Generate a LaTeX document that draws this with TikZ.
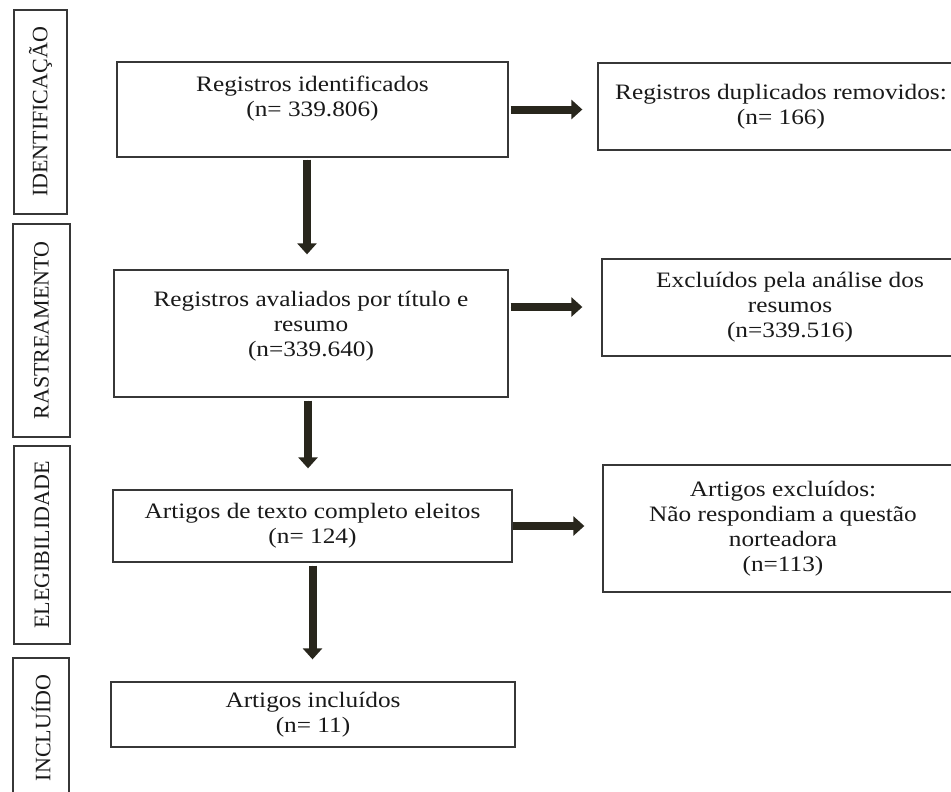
\documentclass[tikz,border=0pt]{standalone}
\usepackage{fontspec}
\setmainfont{Liberation Serif}
\newfontfamily\widefont{Liberation Serif}[FakeStretch=1.15]
\usetikzlibrary{arrows.meta}
\definecolor{boxline}{RGB}{55,55,55}
\definecolor{arrowcol}{RGB}{40,38,28}
\definecolor{txt}{RGB}{25,25,25}
\begin{document}
\begin{tikzpicture}[x=1pt,y=-1pt,
  box/.style={draw=boxline, line width=1.3pt, rectangle, inner sep=0pt, align=center, text=txt,
    font=\widefont\fontsize{22}{25}\selectfont},
  sidebox/.style={box, rotate=90, font=\fontsize{22}{25}\selectfont},
  bigarrow/.style={draw=arrowcol, line width=8pt, -{Triangle[width=19pt,length=11pt]}, fill=arrowcol}
]
\useasboundingbox (0,0) rectangle (951,792);
\clip (0,0) rectangle (951,792);
\fill[white] (0,0) rectangle (951,792);

% phase labels
\node[sidebox, minimum width=204, minimum height=53] (l1) at (40.5,112) {IDENTIFICAÇÃO};
\node[sidebox, minimum width=213, minimum height=57] (l2) at (41.5,330.5) {RASTREAMENTO};
\node[sidebox, minimum width=198, minimum height=56] (l3) at (42,545) {ELEGIBILIDADE};
\node[sidebox, minimum width=140, minimum height=56] (l4) at (41,728) {INCLUÍDO};

% main column
\node[box, minimum width=391, minimum height=95] (b1) at (312.5,109.5) {Registros identificados\\(n= 339.806)\\[1pt]\mbox{}};
\node[box, minimum width=394, minimum height=127] (b2) at (311,333.5) {Registros avaliados por título e\\resumo\\(n=339.640)\\[-5pt]\mbox{}};
\node[box, minimum width=399, minimum height=72] (b3) at (312.5,526) {Artigos de texto completo eleitos\\(n= 124)};
\node[box, minimum width=404, minimum height=65] (b4) at (313,714.5) {Artigos incluídos\\(n= 11)};

% right column
\node[box, minimum width=366, minimum height=87] (r1) at (781,106.5) {Registros duplicados removidos:\\(n= 166)};
\node[box, minimum width=376, minimum height=97] (r2) at (790,307.5) {Excluídos pela análise dos\\resumos\\(n=339.516)};
\node[box, minimum width=360, minimum height=127] (r3) at (783,528.5) {Artigos excluídos:\\Não respondiam a questão\\norteadora\\(n=113)};

% vertical arrows
\draw[bigarrow, shorten <=2pt, shorten >=15pt] ([xshift=-5.5pt]b1.south) -- ([xshift=-5.5pt]b1.south |- b2.north);
\draw[bigarrow, shorten <=3pt, shorten >=21pt] ([xshift=-3pt]b2.south) -- ([xshift=-3pt]b2.south |- b3.north);
\draw[bigarrow, shorten <=3pt, shorten >=22pt] (b3.south) -- (b3.south |- b4.north);

% horizontal arrows
\draw[bigarrow, shorten <=2pt, shorten >=15pt] (b1.east) -- (b1.east -| r1.west);
\draw[bigarrow, shorten <=2pt, shorten >=19pt] ([yshift=26.5pt]b2.east) -- ([yshift=26.5pt]b2.east -| r2.west);
\draw[bigarrow, shorten <=0pt, shorten >=18pt] (b3.east) -- (b3.east -| r3.west);
\end{tikzpicture}
\end{document}
